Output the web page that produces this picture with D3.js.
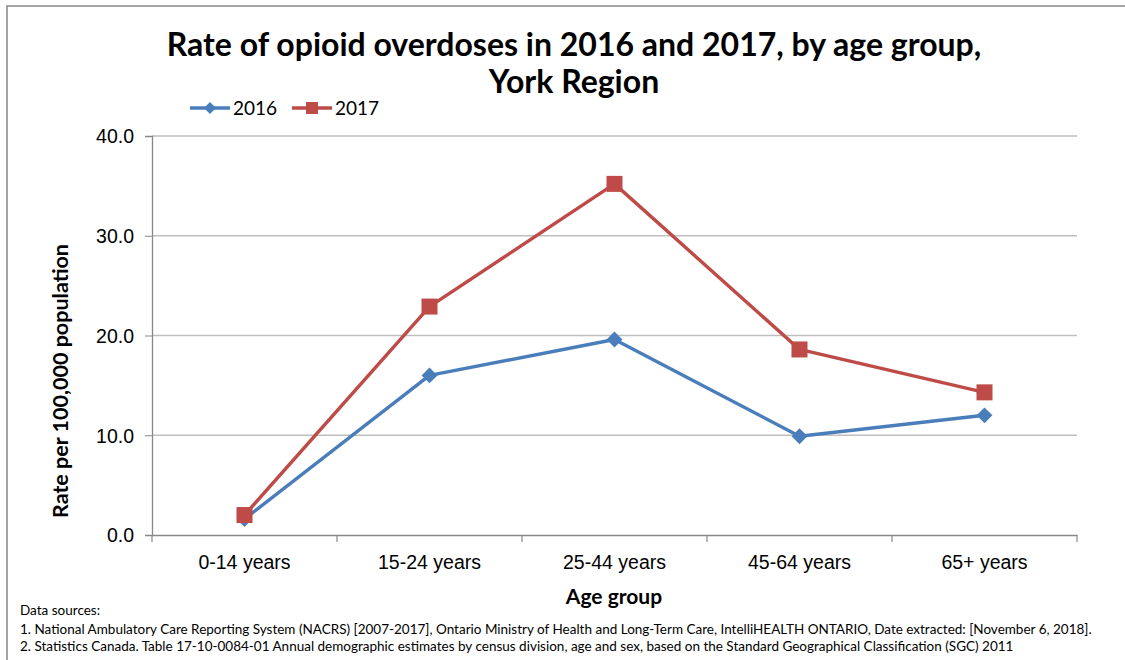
<!DOCTYPE html>
<html><head><meta charset="utf-8">
<script src="https://cdn.jsdelivr.net/npm/d3@7"></script>
<style>body{margin:0;background:#fff;} svg{display:block;font-family:Lato,"Open Sans",sans-serif;}</style>
</head><body>
<script>
const categories = ["0-14 years","15-24 years","25-44 years","45-64 years","65+ years"];
const values2016 = [1.6, 16.0, 19.6, 9.9, 12.0];
const values2017 = [2.0, 22.9, 35.2, 18.6, 14.3];
const yTicks = [0, 10, 20, 30, 40];
const seriesNames = ["2016","2017"];
const titleLines = ["Rate of opioid overdoses in 2016 and 2017, by age group,","York Region"];
const footer = ["Data sources:",
"1. National Ambulatory Care Reporting System (NACRS) [2007-2017], Ontario Ministry of Health and Long-Term Care, IntelliHEALTH ONTARIO, Date extracted: [November 6, 2018].",
"2. Statistics Canada. Table 17-10-0084-01 Annual demographic estimates by census division, age and sex, based on the Standard Geographical Classification (SGC) 2011"];

const W=1125,H=660;
const svg=d3.select("body").append("svg").attr("width",W).attr("height",H);
svg.append("rect").attr("x",7).attr("y",6).attr("width",1130).attr("height",670).attr("fill","#fff").attr("stroke","#888").attr("stroke-width",1.5);

const x=d3.scaleBand().domain(categories).range([152,1077]);
const y=d3.scaleLinear().domain([0,40]).range([535,136]);

// gridlines
svg.append("g").selectAll("line").data(yTicks.filter(d=>d>0)).join("line")
 .attr("x1",152).attr("x2",1077).attr("y1",d=>y(d)).attr("y2",d=>y(d))
 .attr("stroke","#bfbfbf").attr("stroke-width",1.3);

// y axis
const ya=svg.append("g").attr("transform","translate(152,0)")
 .call(d3.axisLeft(y).tickValues(yTicks).tickFormat(d3.format(".1f")).tickSize(7).tickPadding(11));
ya.select(".domain").attr("stroke","#888").attr("stroke-width",1.3);
ya.selectAll(".tick line").attr("stroke","#888");
ya.selectAll("text").attr("font-size",19.5).attr("fill","#000").attr("dy","0.35em");

// x axis
const xa=svg.append("g").attr("transform","translate(0,535)")
 .call(d3.axisBottom(x).tickSize(0).tickPadding(20).tickSizeOuter(0));
xa.select(".domain").attr("stroke","#888").attr("stroke-width",1.3);
xa.selectAll("text").attr("font-size",19.5).attr("fill","#000");
const bounds=categories.map(c=>x(c)).concat([x(categories[categories.length-1])+x.bandwidth()]);
svg.append("g").selectAll("line").data(bounds).join("line")
 .attr("x1",d=>d).attr("x2",d=>d).attr("y1",535).attr("y2",542).attr("stroke","#888").attr("stroke-width",1.2);

// lines
const colors=["#4a7ebb","#be4b48"];
const data=[values2016,values2017];
const line=d3.line().x((d,i)=>x(categories[i])+x.bandwidth()/2).y(d=>y(d));
data.forEach((vals,k)=>{
  svg.append("path").datum(vals).attr("d",line).attr("fill","none").attr("stroke",colors[k]).attr("stroke-width",3.4).attr("stroke-linejoin","round");
});
// markers
const diamond=d3.symbol().type(d3.symbolDiamond2).size(160);
svg.append("g").selectAll("path").data(values2016).join("path")
 .attr("d",diamond).attr("fill",colors[0])
 .attr("transform",(d,i)=>`translate(${x(categories[i])+x.bandwidth()/2},${y(d)})`);
svg.append("g").selectAll("rect").data(values2017).join("rect")
 .attr("x",(d,i)=>x(categories[i])+x.bandwidth()/2-8).attr("y",d=>y(d)-8)
 .attr("width",16).attr("height",16).attr("fill",colors[1]);

// title
svg.append("g").selectAll("text").data(titleLines).join("text")
 .attr("x",574).attr("y",(d,i)=>[56,93][i]).attr("text-anchor","middle")
 .attr("font-size",32).attr("font-weight","bold").attr("fill","#000").text(d=>d);

// legend
const lg=[{x:190,name:seriesNames[0]},{x:292,name:seriesNames[1]}];
lg.forEach((l,k)=>{
  svg.append("line").attr("x1",l.x).attr("x2",l.x+40).attr("y1",108).attr("y2",108).attr("stroke",colors[k]).attr("stroke-width",3.4);
  if(k===0) svg.append("path").attr("d",d3.symbol().type(d3.symbolDiamond2).size(90)).attr("fill",colors[0]).attr("transform",`translate(${l.x+20},108)`);
  else svg.append("rect").attr("x",l.x+14).attr("y",102).attr("width",12).attr("height",12).attr("fill",colors[1]);
  svg.append("text").attr("x",l.x+43).attr("y",115).attr("font-size",19).attr("fill","#000").text(l.name);
});

// axis titles
svg.append("text").attr("transform","translate(68,381) rotate(-90)").attr("text-anchor","middle")
 .attr("font-size",21.5).attr("font-weight","bold").text("Rate per 100,000 population");
svg.append("text").attr("x",614).attr("y",604).attr("text-anchor","middle")
 .attr("font-size",21).attr("font-weight","bold").text("Age group");

// footer
svg.append("g").selectAll("text").data(footer).join("text")
 .attr("x",20).attr("y",(d,i)=>[615,634,651][i]).attr("font-size",13.5).attr("fill","#000").text(d=>d);
</script>
</body></html>
